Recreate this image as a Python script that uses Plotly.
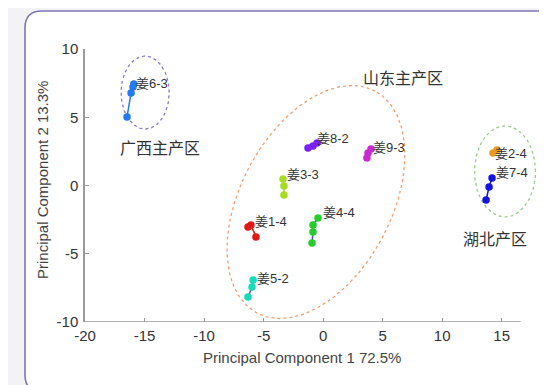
import numpy as np
import plotly.graph_objects as go

# ---------------- data ----------------
samples = ["姜6-3", "姜8-2", "姜9-3", "姜3-3", "姜4-4", "姜1-4", "姜5-2", "姜2-4", "姜7-4"]
pc1 = {
    "姜6-3": [-15.9, -15.97, -16.13, -16.47],
    "姜8-2": [-1.27, -0.85, -0.51],
    "姜9-3": [3.68, 3.77, 4.02],
    "姜3-3": [-3.37, -3.29, -3.29],
    "姜4-4": [-0.43, -0.85, -0.85, -0.93],
    "姜1-4": [-6.31, -6.06, -5.64],
    "姜5-2": [-5.88, -5.97, -6.31],
    "姜2-4": [14.27, 14.6],
    "姜7-4": [14.19, 13.94, 13.69],
}
pc2 = {
    "姜6-3": [7.44, 7.22, 6.78, 5.02],
    "姜8-2": [2.75, 2.89, 3.11],
    "姜9-3": [2.01, 2.38, 2.67],
    "姜3-3": [0.48, -0.04, -0.70],
    "姜4-4": [-2.38, -2.89, -3.41, -4.21],
    "姜1-4": [-3.04, -2.89, -3.77],
    "姜5-2": [-6.92, -7.44, -8.17],
    "姜2-4": [2.38, 2.6],
    "姜7-4": [0.55, -0.11, -1.06],
}
label_x = [-15.85, -0.68, 4.02, -3.2, -0.18, -5.89, -5.72, 14.27, 14.35]
label_y = [7.44, 3.48, 2.82, 0.77, -2.01, -2.67, -6.78, 2.38, 0.92]

regions = ["广西主产区", "山东主产区", "湖北产区"]
region_x = [-13.7, 6.72, 14.45]
region_y = [2.82, 7.95, -3.85]

x_ticks = [-20, -15, -10, -5, 0, 5, 10, 15]
y_ticks = [-10, -5, 0, 5, 10]

# ---------------- styles ----------------
colors = {
    "姜6-3": "#2279f0", "姜8-2": "#7a22f5", "姜9-3": "#c92ad0", "姜3-3": "#a6dc22",
    "姜4-4": "#26cc2a", "姜1-4": "#e01818", "姜5-2": "#18dcb8", "姜2-4": "#e99a20",
    "姜7-4": "#1414e0",
}
line_colors = dict(colors)
line_colors["姜4-4"] = "#4a50c8"
line_colors["姜5-2"] = "#3a5ad0"

OFF = 8  # page body margin in the screenshot
W, H = 547, 385
ML, MR, MT, MB = 85 - OFF, 4 + OFF, 49 - OFF, 63 + OFF
PW, PH = W - ML - MR, H - MT - MB
XMIN, XMAX = -20, 18.47


def px2paper(px, py):
    """screen pixel -> paper coords"""
    return (px - OFF - ML) / PW, (H - MB - (py - OFF)) / PH


fig = go.Figure()

# ellipses (group outlines)
t = np.linspace(0, 2 * np.pi, 200)
ex = -14.95 + 2.02 * np.cos(t)
ey = 6.81 + 2.67 * np.sin(t)
fig.add_trace(go.Scatter(x=ex, y=ey, mode="lines", line=dict(color="#8c78cc", width=1.3, dash="dot"),
                         hoverinfo="skip", showlegend=False))
cx, cy = -0.60, -1.21
u = (4.957, 8.131)
v = (-5.591, 2.593)
ex = cx + u[0] * np.cos(t) + v[0] * np.sin(t)
ey = cy + u[1] * np.cos(t) + v[1] * np.sin(t)
fig.add_trace(go.Scatter(x=ex, y=ey, mode="lines", line=dict(color="#f0a070", width=1.3, dash="dot"),
                         hoverinfo="skip", showlegend=False))
ex = 15.28 + 2.56 * np.cos(t)
ey = 1.03 + 3.33 * np.sin(t)
fig.add_trace(go.Scatter(x=ex, y=ey, mode="lines", line=dict(color="#9ccc8c", width=1.3, dash="dot"),
                         hoverinfo="skip", showlegend=False))

for s in samples:
    fig.add_trace(go.Scatter(
        x=pc1[s], y=pc2[s], mode="lines+markers",
        line=dict(color=line_colors[s], width=1.5),
        marker=dict(color=colors[s], size=7.5, line=dict(width=0)),
        name=s, showlegend=False, cliponaxis=False))

for s, lx, ly in zip(samples, label_x, label_y):
    fig.add_annotation(x=lx, y=ly, text=s, showarrow=False, xanchor="left", yanchor="middle",
                       font=dict(family="Liberation Sans, Noto Sans CJK SC", size=13, color="#333333"))

for r, rx, ry in zip(regions, region_x, region_y):
    fig.add_annotation(x=rx, y=ry, text=r, showarrow=False, xanchor="center", yanchor="middle",
                       font=dict(family="Noto Sans CJK SC", size=16, color="#333333"))

# axis titles
tx, ty = px2paper(302, 357)
fig.add_annotation(xref="paper", yref="paper", x=tx, y=ty,
                   text="Principal Component 1 72.5%", showarrow=False, xanchor="center", yanchor="middle",
                   font=dict(family="Liberation Sans, Arial", size=15, color="#444444"))
tx, ty = px2paper(42, 180)
fig.add_annotation(xref="paper", yref="paper", x=tx, y=ty,
                   text="Principal Component 2 13.3%", showarrow=False, xanchor="center", yanchor="middle",
                   textangle=-90,
                   font=dict(family="Liberation Sans, Arial", size=15, color="#444444"))

# rounded white panel
L, T, R, B, rad = 25, 11, 575, 392, 17
pts = [
    ("M", (L + rad, T)), ("L", (R, T)), ("L", (R, B)), ("L", (L + rad, B)),
    ("Q", (L, B), (L, B - rad)), ("L", (L, T + rad)), ("Q", (L, T), (L + rad, T)),
]
path = ""
for item in pts:
    coords = []
    for p in item[1:]:
        xx, yy = px2paper(*p)
        coords.append(f"{xx:.5f},{yy:.5f}")
    path += item[0] + " " + " ".join(coords) + " "
path += "Z"
fig.add_shape(type="path", xref="paper", yref="paper", path=path, layer="below",
              fillcolor="white", line=dict(color="#7d76b5", width=1.6))

# x axis line (shorter than plot area)
fig.add_shape(type="line", xref="x", yref="y", x0=-20, x1=16.6, y0=-10, y1=-10,
              line=dict(color="#9a9a9a", width=1.5), layer="above")

fig.update_layout(
    width=W, height=H,
    margin=dict(l=ML, r=MR, t=MT, b=MB),
    paper_bgcolor="#f3f3f6",
    plot_bgcolor="rgba(0,0,0,0)",
    showlegend=False,
    xaxis=dict(range=[XMIN, XMAX], tickvals=x_ticks, ticktext=[str(v) for v in x_ticks],
               showgrid=False, zeroline=False, showline=False,
               ticks="inside", ticklen=4, tickcolor="#9a9a9a", tickwidth=1, ticklabelstandoff=3,
               tickfont=dict(family="Liberation Sans, Arial", size=15, color="#333333")),
    yaxis=dict(range=[-10, 10], tickvals=y_ticks, ticktext=[str(v) for v in y_ticks],
               showgrid=False, zeroline=False, showline=True, linecolor="#9a9a9a", linewidth=1.5,
               ticks="inside", ticklen=4, tickcolor="#9a9a9a", tickwidth=1, ticklabelstandoff=2,
               tickfont=dict(family="Liberation Sans, Arial", size=15, color="#333333")),
)

fig.write_html("out.html")
